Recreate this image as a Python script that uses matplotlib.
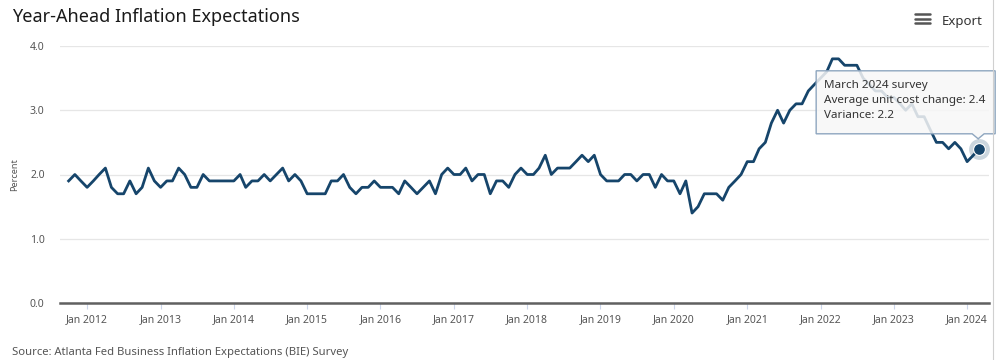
import numpy as np
import pandas as pd
import matplotlib
matplotlib.use("Agg")
import matplotlib.pyplot as plt
import matplotlib.dates as mdates
import matplotlib.transforms as mtransforms
from matplotlib.patches import Polygon
from matplotlib.lines import Line2D

plt.rcParams['font.family'] = ['Noto Sans', 'DejaVu Sans']

# monthly survey values, Oct 2011 .. Mar 2024
first_month = "2011-10-01"
y2011 = [1.9, 2.0, 1.9]
y2012 = [1.8, 1.9, 2.0, 2.1, 1.8, 1.7, 1.7, 1.9, 1.7, 1.8, 2.1, 1.9]
y2013 = [1.8, 1.9, 1.9, 2.1, 2.0, 1.8, 1.8, 2.0, 1.9, 1.9, 1.9, 1.9]
y2014 = [1.9, 2.0, 1.8, 1.9, 1.9, 2.0, 1.9, 2.0, 2.1, 1.9, 2.0, 1.9]
y2015 = [1.7, 1.7, 1.7, 1.7, 1.9, 1.9, 2.0, 1.8, 1.7, 1.8, 1.8, 1.9]
y2016 = [1.8, 1.8, 1.8, 1.7, 1.9, 1.8, 1.7, 1.8, 1.9, 1.7, 2.0, 2.1]
y2017 = [2.0, 2.0, 2.1, 1.9, 2.0, 2.0, 1.7, 1.9, 1.9, 1.8, 2.0, 2.1]
y2018 = [2.0, 2.0, 2.1, 2.3, 2.0, 2.1, 2.1, 2.1, 2.2, 2.3, 2.2, 2.3]
y2019 = [2.0, 1.9, 1.9, 1.9, 2.0, 2.0, 1.9, 2.0, 2.0, 1.8, 2.0, 1.9]
y2020 = [1.9, 1.7, 1.9, 1.4, 1.5, 1.7, 1.7, 1.7, 1.6, 1.8, 1.9, 2.0]
y2021 = [2.2, 2.2, 2.4, 2.5, 2.8, 3.0, 2.8, 3.0, 3.1, 3.1, 3.3, 3.4]
y2022 = [3.5, 3.6, 3.8, 3.8, 3.7, 3.7, 3.7, 3.5, 3.4, 3.3, 3.3, 3.2]
y2023 = [3.2, 3.1, 3.0, 3.1, 2.9, 2.9, 2.7, 2.5, 2.5, 2.4, 2.5, 2.4]
y2024 = [2.2, 2.3, 2.4]

values = np.array(y2011 + y2012 + y2013 + y2014 + y2015 + y2016 + y2017
                  + y2018 + y2019 + y2020 + y2021 + y2022 + y2023 + y2024)
months = pd.date_range(first_month, periods=len(values), freq="MS")

tick_years = pd.date_range("2012-01-01", "2024-01-01", freq="YS")
y_ticks = [0, 1, 2, 3, 4]
tooltip_lines = ["March 2024 survey",
                 "Average unit cost change: 2.4",
                 "Variance: 2.2"]

W, H = 998, 360
navy = "#16456b"
fig = plt.figure(figsize=(W / 100, H / 100), dpi=100)
ax = fig.add_axes([60 / W, 1 - 303 / H, (989 - 60) / W, (303 - 46) / H])

ax.plot(months, values, color=navy, lw=2.0, zorder=3)

ax.set_ylim(0, 4.0)
ax.set_xlim(pd.Timestamp("2011-08-19"), pd.Timestamp("2024-04-19"))
ax.set_yticks(y_ticks)
ax.set_yticklabels([f"{v:.1f}" for v in y_ticks])
ax.set_xticks(tick_years)
ax.set_xticklabels([d.strftime("Jan %Y") for d in tick_years])

for s in ["top", "right", "left"]:
    ax.spines[s].set_visible(False)
ax.spines["bottom"].set_color("#606060")
ax.spines["bottom"].set_linewidth(1.8)
ax.yaxis.grid(True, color="#e6e6e6", lw=0.9)
ax.set_axisbelow(True)
ax.tick_params(axis="x", length=4, width=0.8, color="#ccd6eb", pad=4,
               labelsize=7.5, labelcolor="#555555")
ax.tick_params(axis="y", length=0, pad=11, labelsize=7.5, labelcolor="#555555")
ax.set_ylabel("Percent", fontsize=6.5, color="#555555", labelpad=8)

# hover marker + tooltip anchored on the last point
x0 = mdates.date2num(months[-1])
y0 = values[-1]
ax.plot([months[-1]], [y0], "o", ms=15, color=navy, alpha=0.22, mec="none",
        zorder=6, clip_on=False)
ax.plot([months[-1]], [y0], "o", ms=8.5, color=navy, mec="white", mew=0.8,
        zorder=7, clip_on=False)

tr = mtransforms.ScaledTranslation(x0, y0, ax.transData)
box = Polygon([(-163, 78), (16, 78), (16, 15), (5, 15), (-1, 10), (-7, 15),
               (-163, 15)], closed=True, transform=tr,
              facecolor="#f7f7f7", alpha=0.85, edgecolor="none", zorder=5,
              clip_on=False)
ax.add_artist(box)
edge = Polygon(box.get_xy(), closed=True, transform=tr, fill=False,
               edgecolor="#8ea6bf", lw=1.0, zorder=5, clip_on=False)
ax.add_artist(edge)
for i, line in enumerate(tooltip_lines):
    ax.annotate(line, xy=(x0, y0), xycoords="data",
                xytext=(-155, 63 - 15 * i), textcoords="offset pixels",
                ha="left", va="center", fontsize=8.4, color="#333333",
                zorder=6, annotation_clip=False)

# title, export button, source
fig.text(12 / W, 1 - 17 / H, "Year-Ahead Inflation Expectations",
         fontsize=13, color="#1a1a1a", va="center", ha="left")
for yy in [14, 18.5, 23]:
    fig.add_artist(Line2D([915 / W, 930 / W], [1 - yy / H] * 2,
                          color="#555555", lw=1.8, solid_capstyle="round"))
fig.text(942 / W, 1 - 22 / H, "Export", fontsize=9.5, color="#333333",
         va="center", ha="left")
fig.text(12 / W, 1 - 352 / H,
         "Source: Atlanta Fed Business Inflation Expectations (BIE) Survey",
         fontsize=8.1, color="#555555", va="center", ha="left")
fig.add_artist(Line2D([993 / W] * 2, [0, 1], color="#d0d0d0", lw=0.8))

fig.savefig("out.png", dpi=100)
